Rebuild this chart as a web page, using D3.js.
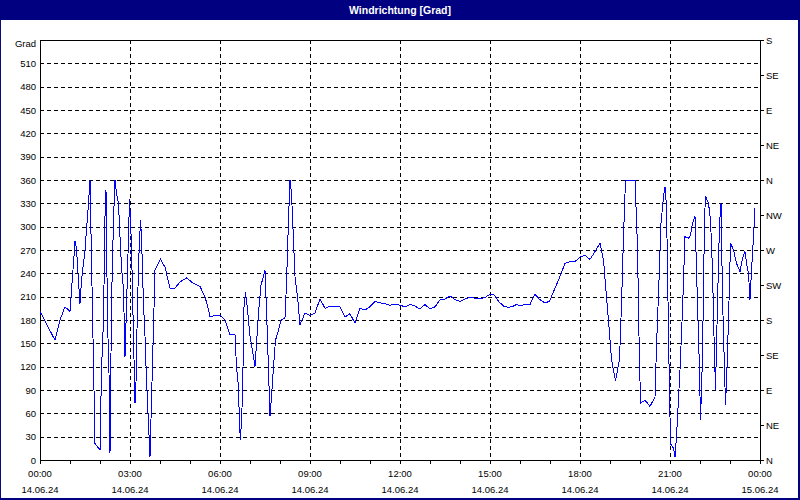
<!DOCTYPE html>
<html><head><meta charset="utf-8">
<script src="https://cdn.jsdelivr.net/npm/d3@7"></script>
<style>
html,body{margin:0;padding:0;background:#fff;}
svg{display:block;}
text{font-family:"Liberation Sans",Arial,sans-serif;}
</style></head>
<body>
<svg id="c" width="800" height="500"></svg>
<script>
const title = "Windrichtung [Grad]";
const yUnit = "Grad";
const startDay = "2024-06-14T00:00:00";
// minutes since 00:00 on 14.06.24
const minutes = [0,30,40,50,60,63,67,70,73,76,80,83,87,90,93,97,100,103,107,110,120,123,127,130,132,135,138,140,143,147,150,153,157,160,163,167,170,173,177,179,181,183,187,190,192,195,198,201,203,207,210,213,217,220,223,227,230,233,241,250,260,270,280,293,307,320,330,337,340,350,360,370,380,390,393,397,399,401,405,408,411,415,420,425,430,433,438,442,447,450,453,457,460,463,467,471,477,482,490,493,497,500,503,510,515,520,530,540,550,560,570,580,590,600,610,620,630,640,650,660,670,680,690,700,710,720,730,740,750,760,770,780,790,800,810,820,830,840,850,860,870,880,890,900,909,917,927,937,947,953,960,970,980,990,1000,1010,1019,1023,1030,1040,1050,1060,1070,1080,1090,1100,1110,1120,1127,1133,1139,1143,1151,1159,1163,1167,1171,1190,1195,1198,1201,1210,1220,1230,1233,1238,1242,1247,1250,1253,1258,1261,1267,1270,1273,1280,1285,1290,1297,1301,1305,1310,1315,1319,1321,1325,1329,1331,1337,1341,1345,1348,1351,1355,1359,1362,1365,1369,1371,1373,1377,1381,1387,1393,1400,1405,1410,1413,1417,1420,1423,1427,1430];
const direction = [191,154,180,197,191,219,253,281,272,240,201,231,253,270,296,330,360,257,124,21,13,116,180,313,347,180,112,9,201,309,360,343,330,287,248,219,133,197,287,336,309,274,159,73,99,201,266,308,287,201,159,103,47,4,77,171,244,248,258,248,221,221,229,234,227,223,210,193,184,186,186,180,161,161,120,94,43,26,81,197,216,193,159,141,120,150,197,225,236,244,193,116,56,81,120,154,167,180,183,227,309,360,343,236,210,174,189,186,189,207,195,198,197,197,184,188,176,195,193,197,204,202,201,199,200,199,197,200,198,194,200,194,197,206,207,211,206,204,207,209,208,207,209,213,212,204,198,196,198,200,198,200,200,213,206,202,204,210,221,236,253,255,255,261,263,258,268,279,257,210,163,129,102,129,201,287,360,360,274,159,73,77,69,81,146,231,304,339,351,326,124,21,15,4,30,116,193,287,285,289,304,313,201,116,51,133,309,339,330,309,244,159,90,201,304,330,210,116,71,99,180,279,270,253,242,259,268,253,240,206,244,287,324];
const leftTicks = [0,30,60,90,120,150,180,210,240,270,300,330,360,390,420,450,480,510];
const compassTicks = [0,45,90,135,180,225,270,315,360,405,450,495,540];
const compassLabels = ["N","NE","E","SE","S","SW","W","NW","N","NE","E","SE","S"];
const xTickTimes = ["00:00","03:00","06:00","09:00","12:00","15:00","18:00","21:00","00:00"];
const xTickDates = ["14.06.24","14.06.24","14.06.24","14.06.24","14.06.24","14.06.24","14.06.24","14.06.24","15.06.24"];

const W = 800, H = 500;
const m = {l:40, r:760, t:40, b:460};
const svg = d3.select("#c");
const t0 = new Date(startDay);
const t1 = d3.timeDay.offset(t0, 1);
const x = d3.scaleTime().domain([t0, t1]).range([m.l, m.r]);
const y = d3.scaleLinear().domain([0, 540]).range([m.b, m.t]);
const data = minutes.map((mm,i)=>({t:d3.timeMinute.offset(t0, mm), v:direction[i]}));

// frame + title bar
svg.append("rect").attr("x",0.5).attr("y",0.5).attr("width",W-1).attr("height",H-1)
  .attr("fill","#fff").attr("stroke","#0a0a80").attr("stroke-width",1);
svg.append("rect").attr("x",0).attr("y",0).attr("width",W).attr("height",20).attr("fill","#000080");
svg.append("rect").attr("x",798).attr("y",0).attr("width",2).attr("height",H).attr("fill","#000080");
svg.append("rect").attr("x",0).attr("y",498).attr("width",W).attr("height",2).attr("fill","#000080");
svg.append("text").attr("x",400).attr("y",13.5).attr("text-anchor","middle")
  .attr("fill","#fff").attr("font-weight","bold").attr("font-size","10.5px").text(title);

const g = svg.append("g").attr("shape-rendering","crispEdges");
// horizontal grid
g.selectAll(".hg").data(leftTicks.filter(d=>d>0)).join("line")
  .attr("x1",m.l).attr("x2",m.r).attr("y1",d=>Math.round(y(d))+0.5).attr("y2",d=>Math.round(y(d))+0.5)
  .attr("stroke","#000").attr("stroke-dasharray","4,3");
// vertical grid every 3 hours
const hours3 = d3.timeHour.every(3).range(t0, t1).filter(d=>+d!==+t0);
g.selectAll(".vg").data(hours3).join("line")
  .attr("x1",d=>Math.round(x(d))+0.5).attr("x2",d=>Math.round(x(d))+0.5).attr("y1",m.t).attr("y2",m.b)
  .attr("stroke","#000").attr("stroke-dasharray","4,3");

// data line
const line = d3.line().x(d=>x(d.t)).y(d=>y(d.v));
svg.append("path").datum(data).attr("d",line).attr("fill","none")
  .attr("stroke","#0000ff").attr("stroke-width",1).attr("shape-rendering","crispEdges");

// axes frame lines
g.append("line").attr("x1",m.l+0.5).attr("x2",m.l+0.5).attr("y1",m.t).attr("y2",m.b+1).attr("stroke","#000");
g.append("line").attr("x1",m.r+0.5).attr("x2",m.r+0.5).attr("y1",m.t).attr("y2",m.b+1).attr("stroke","#000");
g.append("line").attr("x1",m.l).attr("x2",m.r+1).attr("y1",m.t+0.5).attr("y2",m.t+0.5).attr("stroke","#000");
g.append("line").attr("x1",m.l).attr("x2",m.r+1).attr("y1",m.b+0.5).attr("y2",m.b+0.5).attr("stroke","#000");

// left axis
const la = svg.append("g").attr("transform",`translate(${m.l},0)`)
  .call(d3.axisLeft(y).tickValues(leftTicks).tickSize(0).tickPadding(4));
la.select(".domain").remove();
la.selectAll("text").attr("font-family","'Liberation Sans',Arial,sans-serif").attr("font-size","9.5px").attr("fill","#000");
svg.append("text").attr("x",36).attr("y",y(540)+4).attr("dy","0.32em").attr("text-anchor","end")
  .attr("font-size","9.5px").attr("fill","#000").text(yUnit);

// right axis
const ra = svg.append("g").attr("transform",`translate(${m.r+1},0)`)
  .call(d3.axisRight(y).tickValues(compassTicks).tickFormat((d,i)=>compassLabels[i]).tickSize(3).tickPadding(2));
ra.select(".domain").remove();
ra.selectAll("line").attr("shape-rendering","crispEdges").attr("stroke","#000");
ra.selectAll("text").attr("font-family","'Liberation Sans',Arial,sans-serif").attr("font-size","9.5px").attr("fill","#000");

// bottom axis: hourly minor ticks, 3-hour labels
const ba = svg.append("g").attr("transform",`translate(0,${m.b+1})`)
  .call(d3.axisBottom(x).ticks(d3.timeHour.every(1)).tickSize(3).tickFormat(""));
ba.select(".domain").remove();
ba.selectAll("line").attr("shape-rendering","crispEdges").attr("stroke","#000");
const xMajor = d3.timeHour.every(3).range(t0, d3.timeMinute.offset(t1,1));
const lab = svg.append("g");
lab.selectAll(".tl").data(xMajor).join("text")
  .attr("x",d=>x(d)).attr("y",477).attr("text-anchor","middle").attr("font-size","9.5px").attr("fill","#000")
  .text((d,i)=>xTickTimes[i]);
lab.selectAll(".dl").data(xMajor).join("text")
  .attr("x",d=>x(d)).attr("y",493).attr("text-anchor","middle").attr("font-size","9.5px").attr("fill","#000")
  .text((d,i)=>xTickDates[i]);
</script>
</body></html>
